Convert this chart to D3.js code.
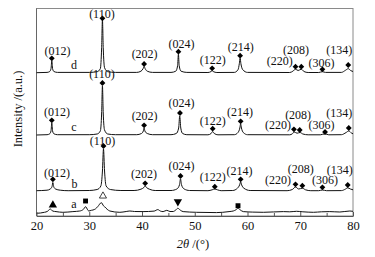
<!DOCTYPE html>
<html>
<head>
<meta charset="utf-8">
<script src="https://cdn.jsdelivr.net/npm/d3@7"></script>
<style>
  body { margin: 0; background: #fff; }
  svg { display: block; }
  text { font-family: "Liberation Serif", "Times New Roman", serif; fill: #111; }
</style>
</head>
<body>
<svg id="chart" width="375" height="257"></svg>
<script>
// ---- data (2theta in degrees, intensity in a.u. above each trace's baseline)
var xTicks = [20, 30, 40, 50, 60, 70, 80];
var xMinor = [25, 35, 45, 55, 65, 75];
var hkl = ["(012)", "(110)", "(202)", "(024)", "(122)", "(214)", "(220)", "(208)", "(306)", "(134)"];
var traceNames = ["a", "b", "c", "d"];
var traceOffsets = [3.7, 25, 81, 143.3];

var traceA = [[20,-1],[21.5,0],[22.1,1],[22.6,3.3],[23.1,1.2],[23.7,0.7],[25,0],[26.9,0.7],[28.2,1.3],
  [28.9,3],[29.3,5.6],[29.7,2.5],[29.9,1.3],[30.4,2],[30.7,2.3],[31.2,3.5],[31.6,5.6],[32.3,9.6],
  [32.7,6.5],[32.9,5.6],[33.4,3],[33.9,1.3],[35.8,0],[37,0.8],[37.7,1.3],[38.6,0.8],[40.2,0.7],
  [42.3,1.2],[43,2.7],[43.5,1.2],[44,0.7],[44.7,2],[45.3,0.8],[45.9,0.8],[46.4,2.3],[46.8,4],
  [47.3,2],[47.8,0.7],[50.3,0],[54.1,-0.3],[56.5,0.7],[57.3,1.3],[57.8,2.5],[58.2,4],[58.6,2.5],
  [59.2,0.7],[61,0.2],[63,0],[66.8,0.7],[68,0.5],[69.3,1],[70.5,0.5],[72.5,0],[74,0.5],[75.6,0.7],
  [77.5,0.3],[79.4,1.3],[80,1]];

var traceB = [[20,0.3],[22,0.8],[22.6,2],[22.95,4.5],[23.1,8.5],[23.25,4.5],[23.6,2],[24.5,0.8],[26,0.3],
  [30,0.5],[31.5,1.5],[32.2,5],[32.5,20],[32.7,42],[32.9,20],[33.2,5],[34,1.5],[36,0.5],
  [38.5,0.5],[39.8,1.8],[40.35,3.5],[40.6,5],[40.85,3.5],[41.4,1.8],[42.5,0.5],
  [45.5,0.5],[46.6,2],[47.1,6],[47.3,12],[47.5,6],[48,2],[49,0.5],
  [52.5,0.3],[53.3,1.2],[53.8,2],[54.3,1.2],[55,0.3],
  [57.2,0.5],[58.1,2.8],[58.5,6],[58.7,9],[58.9,6],[59.3,2.8],[60.5,0.5],
  [67.5,0.3],[68.5,1.5],[69.1,4],[69.7,2],[70.4,2.8],[71,1.2],[72,0.3],
  [73.5,0.3],[74.2,1],[75,0.3],[77.8,0.4],[78.6,2],[79,3.2],[79.5,2],[80,1.2]];

var traceC = [[20,0],[22,0.3],[22.5,1.2],[22.75,4],[22.9,12],[23.05,4],[23.3,1.2],[24,0.3],
  [30,0.3],[31.5,1],[32.1,4],[32.35,22],[32.5,49],[32.65,22],[32.9,5],[33.5,1],[35,0.3],
  [39,0.3],[39.9,1.5],[40.25,4],[40.4,7],[40.55,4],[41,1.5],[42,0.3],
  [45.5,0.3],[46.5,1.5],[46.95,7],[47.15,19],[47.35,7],[47.7,1.5],[48.5,0.3],
  [52.5,0.2],[53.1,1.5],[53.4,3.5],[53.7,1.5],[54.4,0.2],
  [57.5,0.3],[58.2,2.5],[58.55,7],[58.7,11],[58.85,7],[59.2,2.5],[60,0.3],
  [68,0.2],[68.5,1.2],[68.85,3],[69.4,1.8],[69.95,2.5],[70.5,1],[71.5,0.2],
  [73.8,0.2],[74.7,1.2],[75.4,0.2],[77.8,0.3],[78.7,2.5],[79.2,4],[79.7,2],[80,1.2]];

var traceD = [[20,0],[22,0.3],[22.5,1.2],[22.75,4],[22.9,12],[23.05,4],[23.3,1.2],[24,0.3],
  [30,0.3],[31.5,1],[32.1,4],[32.35,25],[32.5,53],[32.65,25],[32.9,5],[33.5,1],[35,0.3],
  [39,0.3],[39.8,1.5],[40.2,4],[40.4,6.2],[40.6,4],[41,1.5],[42,0.3],
  [45.5,0.3],[46.4,1.5],[46.75,7],[46.9,18.5],[47.05,7],[47.4,1.5],[48.5,0.3],
  [52.5,0.2],[53.1,1.2],[53.3,2],[53.5,1.2],[54.2,0.2],
  [57.5,0.3],[58.2,3],[58.45,9],[58.6,14.5],[58.75,9],[59.1,3],[60,0.3],
  [68,0.2],[68.6,1.5],[69.1,3.5],[69.6,2.2],[70.2,3.5],[70.7,1.2],[71.5,0.2],
  [73.5,0.2],[74.2,1],[74.8,0.3],[77.8,0.3],[78.6,2.5],[79.1,4],[79.6,2],[80,1.2]];

// peak markers (diamonds) for b, c, d
var peaksB = [23.1, 32.7, 40.6, 47.3, 53.8, 58.7, 69.1, 70.4, 74.2, 79.0];
var markB  = [11.7, 45, 7.7, 15, 4.3, 11.7, 6.7, 5.3, 3.7, 6];
var peaksC = [22.9, 32.5, 40.4, 47.2, 53.4, 58.7, 68.8, 69.9, 74.7, 79.2];
var markC  = [14.7, 52, 9.7, 22, 6.3, 13.7, 5.7, 5, 3, 7];
var peaksD = [22.9, 32.5, 40.4, 46.9, 53.3, 58.6, 69.1, 70.2, 74.2, 79.1];
var markD  = [14.4, 54.4, 8.7, 21, 4.4, 17, 6, 6, 3.4, 7.7];

// impurity phase markers on trace a
var phaseA = ["triangle", "square", "opentriangle", "downtriangle", "square"];
var phasePos = [23.1, 29.3, 32.6, 46.8, 58.2];
var phaseMark = [7.3, 11.3, 16.3, 10.6, 6.6];

// label placement (2theta, height above baseline) -- layout only
var labB = [[23.9,14],[32.5,46],[40.4,13],[47.5,21],[53.4,10],[58.5,16],[65.8,7],[70.1,18],[74.7,7],[77.5,17]];
var labC = [[23.9,19],[32.4,57],[40.5,15],[47.5,28.5],[53.4,10],[58.6,19],[65.8,6],[69.6,16],[74.05,6],[77.4,18]];
var labD = [[24.0,17.7],[32.4,55.2],[40.5,14.7],[47.5,24.7],[53.4,8.7],[58.7,21.7],[66.1,7.7],[69.2,18.7],[74.05,5.7],[77.4,18.7]];
var nameLab = [[27.1,4.3],[27.2,3],[27.1,4],[27.1,3.7]];

// ---- drawing
var svg = d3.select("#chart");
var pL = 36.5, pR = 353, pT = 8.5, pB = 216;

var x = d3.scaleLinear().domain([20, 80]).range([pL, pR]);
var y = d3.scaleLinear().domain([0, pB - pT]).range([pB, pT]);

// frame
svg.append("rect")
  .attr("x", pL).attr("y", pT)
  .attr("width", pR - pL).attr("height", pB - pT)
  .attr("fill", "none").attr("stroke", "#8a8a8a").attr("stroke-width", 1);
svg.append("line")
  .attr("x1", pL).attr("x2", pL).attr("y1", pT).attr("y2", pB)
  .attr("stroke", "#666");

var line = d3.line()
  .x(function(d){ return x(d[0]); })
  .curve(d3.curveMonotoneX);

var traces = [traceA, traceB, traceC, traceD];
traces.forEach(function(t, i){
  line.y(function(d){ return y(d[1] + traceOffsets[i]); });
  svg.append("path")
    .attr("d", line(t))
    .attr("fill", "none")
    .attr("stroke", "#111")
    .attr("stroke-width", 1);
});

// diamonds and hkl labels
var diamond = d3.symbol().type(d3.symbolSquare).size(17);
[[peaksB, markB, labB, 1], [peaksC, markC, labC, 2], [peaksD, markD, labD, 3]].forEach(function(s){
  var off = traceOffsets[s[3]];
  var g = svg.append("g");
  g.selectAll("path").data(s[0]).enter().append("path")
    .attr("d", diamond)
    .attr("fill", "#000")
    .attr("transform", function(d, i){
      return "translate(" + x(d) + "," + y(s[1][i] + off) + ") rotate(45)";
    });
  g.selectAll("text").data(hkl).enter().append("text")
    .attr("x", function(d, i){ return x(s[2][i][0]); })
    .attr("y", function(d, i){ return y(s[2][i][1] + off); })
    .attr("text-anchor", "middle")
    .attr("font-size", 12)
    .text(function(d){ return d; });
});

// impurity symbols on trace a
var symFor = {
  triangle: d3.symbol().type(d3.symbolTriangle).size(30),
  square: d3.symbol().type(d3.symbolSquare).size(24),
  opentriangle: d3.symbol().type(d3.symbolTriangle).size(22),
  downtriangle: d3.symbol().type(d3.symbolTriangle).size(30)
};
svg.append("g").selectAll("path").data(phaseA).enter().append("path")
  .attr("d", function(d){ return symFor[d](); })
  .attr("fill", function(d){ return d === "opentriangle" ? "#fff" : "#000"; })
  .attr("stroke", function(d){ return d === "opentriangle" ? "#111" : "none"; })
  .attr("stroke-width", 0.8)
  .attr("transform", function(d, i){
    return "translate(" + x(phasePos[i]) + "," + y(phaseMark[i] + traceOffsets[0]) + ")" +
      (d === "downtriangle" ? " rotate(180)" : "");
  });

// trace names a-d
svg.append("g").selectAll("text").data(traceNames).enter().append("text")
  .attr("x", function(d, i){ return x(nameLab[i][0]); })
  .attr("y", function(d, i){ return y(nameLab[i][1] + traceOffsets[i]); })
  .attr("text-anchor", "middle")
  .attr("font-size", 12)
  .text(function(d){ return d; });

// x axis
var xAxis = d3.axisBottom(x).tickValues(xTicks).tickSizeInner(-4).tickSizeOuter(0).tickPadding(5);
var gx = svg.append("g").attr("transform", "translate(0," + pB + ")").call(xAxis);
gx.select(".domain").attr("stroke", "#555");
gx.selectAll(".tick line").attr("stroke", "#555");
gx.selectAll(".tick text")
  .attr("font-family", "Liberation Serif, Times New Roman, serif")
  .attr("font-size", 12.5).attr("fill", "#111");

var gm = svg.append("g").attr("transform", "translate(0," + pB + ")")
  .call(d3.axisBottom(x).tickValues(xMinor).tickSizeInner(-3).tickSizeOuter(0).tickFormat(""));
gm.select(".domain").remove();
gm.selectAll(".tick line").attr("stroke", "#555");

// axis titles
var xt = svg.append("text")
  .attr("x", 193).attr("y", 248)
  .attr("text-anchor", "middle")
  .attr("font-size", 12.5);
xt.append("tspan").attr("font-style", "italic").text("2θ");
xt.append("tspan").text(" /(°)");

svg.append("text")
  .attr("transform", "translate(22,109) rotate(-90)")
  .attr("text-anchor", "middle")
  .attr("font-size", 12.5)
  .text("Intensity /(a.u.)");
</script>
</body>
</html>
